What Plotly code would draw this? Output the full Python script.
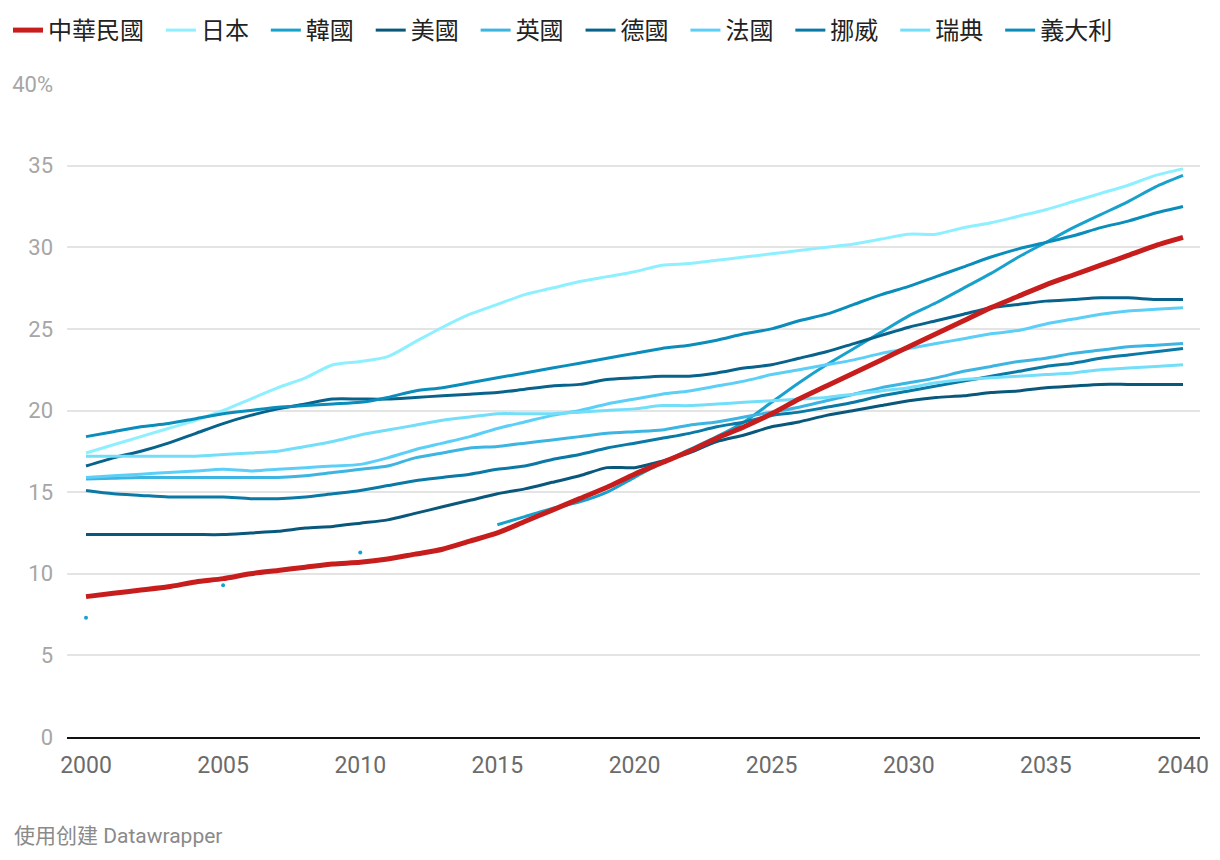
import plotly.graph_objects as go

years = list(range(2000, 2041))

taiwan = [8.6, 8.8, 9.0, 9.2, 9.5, 9.7, 10.0, 10.2, 10.4, 10.6, 10.7, 10.9, 11.2, 11.5, 12.0, 12.5,
          13.2, 13.9, 14.6, 15.3, 16.1, 16.8, 17.5, 18.3, 19.0, 19.8, 20.7, 21.5, 22.3, 23.1, 23.9,
          24.7, 25.5, 26.3, 27.0, 27.7, 28.3, 28.9, 29.5, 30.1, 30.6]
japan = [17.4, 17.9, 18.4, 18.9, 19.4, 20.0, 20.7, 21.4, 22.0, 22.8, 23.0, 23.3, 24.2, 25.1, 25.9, 26.5,
         27.1, 27.5, 27.9, 28.2, 28.5, 28.9, 29.0, 29.2, 29.4, 29.6, 29.8, 30.0, 30.2, 30.5, 30.8,
         30.8, 31.2, 31.5, 31.9, 32.3, 32.8, 33.3, 33.8, 34.4, 34.8]
korea = [7.3, None, None, None, None, 9.3, None, None, None, None, 11.3, None, None, None, None, 13.0,
         13.5, 14.0, 14.4, 15.0, 15.9, 16.8, 17.6, 18.4, 19.3, 20.5, 21.7, 22.8, 23.8, 24.8, 25.8,
         26.6, 27.5, 28.4, 29.4, 30.3, 31.2, 32.0, 32.8, 33.7, 34.4]
usa = [12.4, 12.4, 12.4, 12.4, 12.4, 12.4, 12.5, 12.6, 12.8, 12.9, 13.1, 13.3, 13.7, 14.1, 14.5, 14.9,
       15.2, 15.6, 16.0, 16.5, 16.5, 16.9, 17.4, 18.1, 18.5, 19.0, 19.3, 19.7, 20.0, 20.3, 20.6,
       20.8, 20.9, 21.1, 21.2, 21.4, 21.5, 21.6, 21.6, 21.6, 21.6]
uk = [15.8, 15.85, 15.9, 15.9, 15.9, 15.9, 15.9, 15.9, 16.0, 16.2, 16.4, 16.6, 17.1, 17.4, 17.7, 17.8,
      18.0, 18.2, 18.4, 18.6, 18.7, 18.8, 19.1, 19.3, 19.6, 19.9, 20.2, 20.6, 21.0, 21.4, 21.7,
      22.0, 22.4, 22.7, 23.0, 23.2, 23.5, 23.7, 23.9, 24.0, 24.1]
germany = [16.6, 17.1, 17.5, 18.0, 18.6, 19.2, 19.7, 20.1, 20.4, 20.7, 20.7, 20.7, 20.8, 20.9, 21.0, 21.1,
           21.3, 21.5, 21.6, 21.9, 22.0, 22.1, 22.1, 22.3, 22.6, 22.8, 23.2, 23.6, 24.1, 24.6, 25.1,
           25.5, 25.9, 26.3, 26.5, 26.7, 26.8, 26.9, 26.9, 26.8, 26.8]
france = [15.9, 16.0, 16.1, 16.2, 16.3, 16.4, 16.3, 16.4, 16.5, 16.6, 16.7, 17.1, 17.6, 18.0, 18.4, 18.9,
          19.3, 19.7, 20.0, 20.4, 20.7, 21.0, 21.2, 21.5, 21.8, 22.2, 22.5, 22.8, 23.1, 23.5, 23.8,
          24.1, 24.4, 24.7, 24.9, 25.3, 25.6, 25.9, 26.1, 26.2, 26.3]
norway = [15.1, 14.9, 14.8, 14.7, 14.7, 14.7, 14.6, 14.6, 14.7, 14.9, 15.1, 15.4, 15.7, 15.9, 16.1, 16.4,
          16.6, 17.0, 17.3, 17.7, 18.0, 18.3, 18.6, 19.0, 19.3, 19.7, 19.9, 20.2, 20.5, 20.9, 21.2,
          21.5, 21.8, 22.1, 22.4, 22.7, 22.9, 23.2, 23.4, 23.6, 23.8]
sweden = [17.2, 17.2, 17.2, 17.2, 17.2, 17.3, 17.4, 17.5, 17.8, 18.1, 18.5, 18.8, 19.1, 19.4, 19.6, 19.8,
          19.8, 19.8, 19.9, 20.0, 20.1, 20.3, 20.3, 20.4, 20.5, 20.6, 20.7, 20.8, 21.0, 21.2, 21.4,
          21.7, 21.9, 22.0, 22.1, 22.2, 22.3, 22.5, 22.6, 22.7, 22.8]
italy = [18.4, 18.7, 19.0, 19.2, 19.5, 19.8, 20.0, 20.2, 20.3, 20.4, 20.5, 20.8, 21.2, 21.4, 21.7, 22.0,
         22.3, 22.6, 22.9, 23.2, 23.5, 23.8, 24.0, 24.3, 24.7, 25.0, 25.5, 25.9, 26.5, 27.1, 27.6,
         28.2, 28.8, 29.4, 29.9, 30.3, 30.7, 31.2, 31.6, 32.1, 32.5]

names = ["中華民國", "日本", "韓國", "美國", "英國", "德國", "法國", "挪威", "瑞典", "義大利"]
series = [taiwan, japan, korea, usa, uk, germany, france, norway, sweden, italy]
colors = ["#c71e1d", "#8ef0ff", "#18a1cd", "#09587c", "#3cb5e2", "#07638c", "#5ccff8", "#0a79a6", "#73def9", "#0a8dbb"]

y_ticks = [0, 5, 10, 15, 20, 25, 30, 35, 40]
y_ticktext = ["0", "5", "10", "15", "20", "25", "30", "35", "40%"]
x_ticks = [2000, 2005, 2010, 2015, 2020, 2025, 2030, 2035, 2040]

FONT = "Roboto, 'Noto Sans CJK TC', sans-serif"

fig = go.Figure()

order = list(range(1, len(names))) + [0]  # draw red on top
for i in order:
    name = names[i]
    vals = series[i]
    label = name if i == len(names) - 1 else name + "\u00a0\u00a0"
    fig.add_trace(go.Scatter(
        x=years, y=vals, name=label, mode="lines",
        line=dict(color=colors[i], width=5 if i == 0 else 3, shape="spline", smoothing=0.7),
        connectgaps=False, legendrank=i + 1, cliponaxis=False,
        hoverinfo="skip",
    ))
    if i == 2:
        # isolated points (no neighbours) drawn as dots
        iso_x, iso_y = [], []
        for k, v in enumerate(vals):
            prev_ = vals[k - 1] if k > 0 else None
            next_ = vals[k + 1] if k < len(vals) - 1 else None
            if v is not None and prev_ is None and next_ is None:
                iso_x.append(years[k]); iso_y.append(v)
        fig.add_trace(go.Scatter(
            x=iso_x, y=iso_y, mode="markers", showlegend=False,
            marker=dict(color=colors[i], size=4), cliponaxis=False, hoverinfo="skip",
        ))

# page body adds an 8px offset; figure is sized so the plot area lands at x 67-1200, y 84-737
fig.update_layout(
    width=1212, height=852,
    margin=dict(l=59, r=20, t=76, b=123, autoexpand=False),
    paper_bgcolor="white", plot_bgcolor="white",
    font=dict(family=FONT, size=22, color="#333333"),
    showlegend=True,
    legend=dict(
        orientation="h", xref="container", yref="container",
        x=0.0, y=1.0, xanchor="left", yanchor="top",
        font=dict(family=FONT, size=24, color="#222222"),
        traceorder="normal", itemwidth=30, bgcolor="rgba(0,0,0,0)",
    ),
    xaxis=dict(
        range=[1999.307, 2040.62], tickvals=x_ticks, ticktext=[str(v) for v in x_ticks],
        showgrid=False, zeroline=False, showline=True, linecolor="#111111", linewidth=2,
        ticks="", tickfont=dict(size=23, color="#6b6b6b"), ticklabelstandoff=6, automargin=False,
    ),
    yaxis=dict(
        range=[0, 40], tickvals=y_ticks, ticktext=y_ticktext,
        showgrid=True, gridcolor="#e4e4e4", gridwidth=2, zeroline=False, showline=False,
        ticks="", tickfont=dict(size=22, color="#a6a6a6"), ticklabelstandoff=13, automargin=False,
    ),
    annotations=[dict(
        text="使用创建 Datawrapper", xref="paper", yref="paper",
        x=(12 - 67) / 1133, y=(737 - 836) / 653,
        xanchor="left", yanchor="middle", showarrow=False,
        font=dict(family=FONT, size=21, color="#8a8a8a"),
    )],
)

fig.write_html("out.html")
